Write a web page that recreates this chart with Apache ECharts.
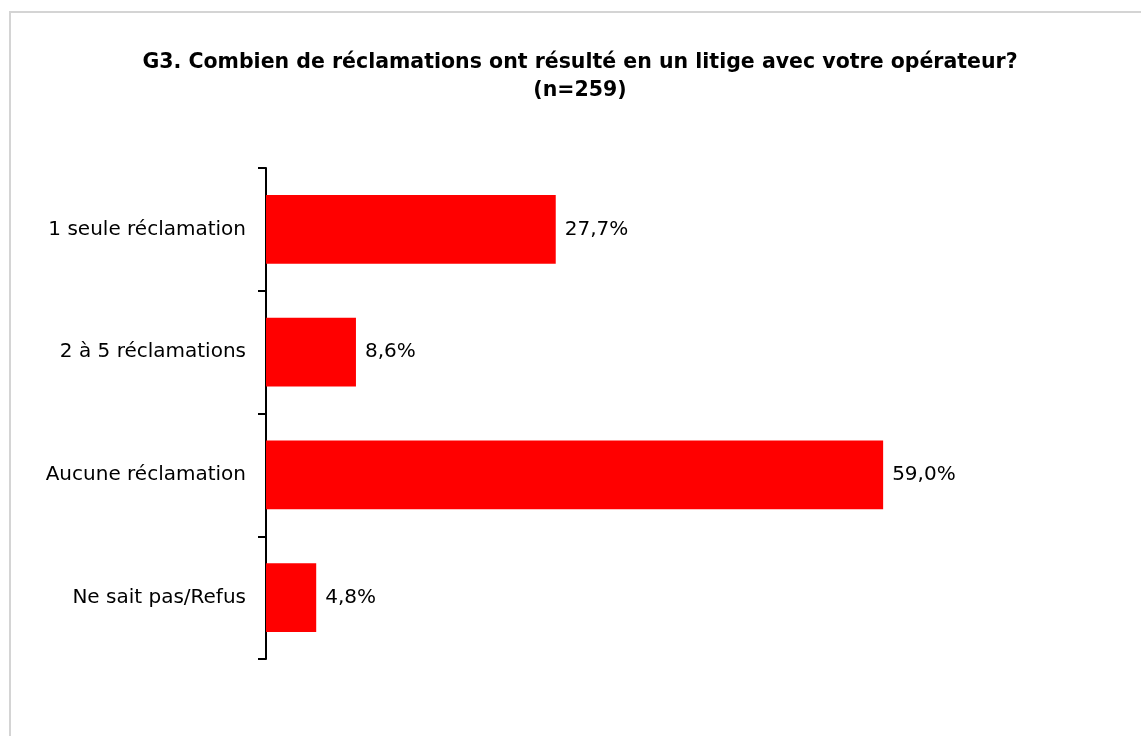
<!DOCTYPE html>
<html>
<head>
<meta charset="utf-8">
<script src="https://cdn.jsdelivr.net/npm/echarts@6/dist/echarts.min.js"></script>
<style>
html, body { margin: 0; padding: 0; background: #fff; }
#frame { position: absolute; left: 9px; top: 11px; width: 1200px; height: 800px; border: 2px solid #d4d4d4; box-sizing: border-box; }
#chart { position: absolute; left: 0; top: 0; width: 1141px; height: 736px; }
</style>
</head>
<body>
<div id="frame"></div>
<div id="chart"></div>
<script>
// données
var categories = ['1 seule réclamation', '2 à 5 réclamations', 'Aucune réclamation', 'Ne sait pas/Refus'];
var values = [27.7, 8.6, 59.0, 4.8];

var chart = echarts.init(document.getElementById('chart'));
var option = {
    title: {
        text: 'G3. Combien de réclamations ont résulté en un litige avec votre opérateur?\n(n=259)',
        left: 575,
        textAlign: 'center',
        top: 44,
        textStyle: {
            fontFamily: 'DejaVu Sans',
            fontWeight: 'bold',
            fontSize: 20.5,
            lineHeight: 28,
            color: '#000'
        }
    },
    grid: {
        left: 266,
        top: 168,
        width: 627.6,
        height: 491
    },
    xAxis: {
        type: 'value',
        min: 0,
        max: 60,
        show: false
    },
    yAxis: {
        type: 'category',
        data: categories,
        inverse: true,
        axisLine: { lineStyle: { color: '#000', width: 2 } },
        axisTick: { show: true, length: 8, lineStyle: { color: '#000', width: 2 } },
        axisLabel: {
            margin: 20,
            fontFamily: 'DejaVu Sans',
            fontSize: 20,
            color: '#000'
        }
    },
    series: [{
        type: 'bar',
        data: values,
        barCategoryGap: '44%',
        itemStyle: { color: '#ff0000' },
        label: {
            show: true,
            position: 'right',
            distance: 9,
            fontFamily: 'DejaVu Sans',
            fontSize: 20,
            color: '#000',
            formatter: function (p) {
                return p.value.toFixed(1).replace('.', ',') + '%';
            }
        }
    }]
};
chart.setOption(option);
</script>
</body>
</html>
